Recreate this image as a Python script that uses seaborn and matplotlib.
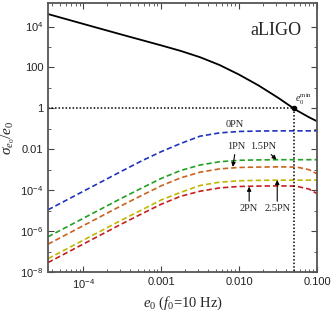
import numpy as np
import pandas as pd
import matplotlib
matplotlib.use("Agg")
import matplotlib.pyplot as plt
import seaborn as sns

# ---- data (log10 values) ----
log_e0 = [-4.45, -4.0, -3.5, -3.25, -3.0, -2.75, -2.5, -2.25, -2.0, -1.75, -1.5, -1.3, -1.25, -1.1, -1.0]
sigma_total = [4.61, 4.13, 3.60, 3.34, 3.08, 2.81, 2.50, 2.12, 1.65, 1.12, 0.52, 0.0, -0.12, -0.44, -0.63]
pn0 = [-4.96, -4.06, -3.06, -2.57, -2.12, -1.72, -1.36, -1.20, -1.13, -1.11, -1.10, -1.10, -1.10, -1.10, -1.10]
pn15 = [-6.28, -5.38, -4.38, -3.90, -3.43, -3.04, -2.77, -2.61, -2.54, -2.52, -2.51, -2.51, -2.51, -2.51, -2.51]
pn1 = [-6.64, -5.74, -4.74, -4.26, -3.79, -3.40, -3.12, -2.96, -2.89, -2.87, -2.86, -2.87, -2.88, -3.00, -3.20]
pn25 = [-7.35, -6.45, -5.45, -4.97, -4.48, -4.11, -3.77, -3.61, -3.54, -3.52, -3.51, -3.51, -3.51, -3.51, -3.51]
pn2 = [-7.54, -6.64, -5.64, -5.16, -4.69, -4.30, -4.05, -3.89, -3.82, -3.80, -3.79, -3.80, -3.82, -3.95, -4.17]
e0_min = 0.05

xticks = [1e-4, 1e-3, 1e-2, 1e-1]
xticklabels = [r"$\mathsf{10^{-4}}$", "0.001", "0.010", "0.100"]
yticks = [1e4, 1e2, 1, 1e-2, 1e-4, 1e-6, 1e-8]
yticklabels = [r"$\mathsf{10^{4}}$", "100", "1", "0.01",
               r"$\mathsf{10^{-4}}$", r"$\mathsf{10^{-6}}$", r"$\mathsf{10^{-8}}$"]

sns.set_style("ticks")
plt.rcParams["font.family"] = ["Liberation Sans", "DejaVu Sans"]
plt.rcParams["mathtext.fontset"] = "custom"
plt.rcParams["mathtext.rm"] = "Liberation Serif"
plt.rcParams["mathtext.it"] = "Liberation Serif:italic"
plt.rcParams["mathtext.sf"] = "Liberation Sans"

fig = plt.figure(figsize=(3.32, 3.11), dpi=100)
ax = fig.add_axes([48 / 332, 1 - 272 / 311, 269 / 332, 269 / 311])

x = 10 ** np.array(log_e0)
series = [
    (sigma_total, "#000000", "solid"),
    (pn0, "#2233bb", "dash"),
    (pn15, "#22a022", "dash"),
    (pn1, "#c8641e", "dash"),
    (pn25, "#c0b800", "dash"),
    (pn2, "#c81e1e", "dash"),
]
for vals, col, sty in series:
    df = pd.DataFrame({"e0": x, "v": 10 ** np.array(vals)})
    if sty == "solid":
        sns.lineplot(data=df, x="e0", y="v", ax=ax, color=col, lw=1.3)
    else:
        sns.lineplot(data=df, x="e0", y="v", ax=ax, color=col, lw=1.2,
                     dashes=False, linestyle=(0, (3.2, 1.8)))

ax.set_xscale("log")
ax.set_yscale("log")
ax.set_xlim(10 ** -4.45, 0.1)
ax.set_ylim(1e-8, 10 ** 5.15)

# dotted guide lines at e0_min
ax.plot([10 ** -4.45, e0_min], [1, 1], color="black", lw=1.1, ls=(0, (1, 1.3)))
ax.plot([e0_min, e0_min], [1, 1e-8], color="black", lw=1.1, ls=(0, (1, 1.3)))
ax.plot([e0_min], [1], "o", color="black", ms=3)
ax.text(10 ** -1.17, 10 ** 0.45, r"$e_0^{\rm min}$", fontsize=7, ha="center", va="center")

ax.text(0.846, 0.896, "aLIGO", transform=ax.transAxes, fontsize=13,
        family="Liberation Serif", ha="center", va="center")

lab_kw = dict(fontsize=7.5, family="Liberation Serif", ha="center", va="center")
arr = dict(arrowstyle="-|>", color="black", lw=0.8, mutation_scale=6, shrinkA=0, shrinkB=0)
ax.text(10 ** -2.05, 10 ** -0.78, "0PN", **lab_kw)
ax.annotate("1PN", xy=(10 ** -2.08, 10 ** -2.86), xytext=(10 ** -2.04, 10 ** -1.88),
            arrowprops=arr, **lab_kw)
ax.annotate("1.5PN", xy=(10 ** -1.52, 10 ** -2.51), xytext=(10 ** -1.69, 10 ** -1.88),
            arrowprops=arr, **lab_kw)
ax.annotate("2PN", xy=(10 ** -1.87, 10 ** -3.83), xytext=(10 ** -1.87, 10 ** -4.92),
            arrowprops=arr, **lab_kw)
ax.annotate("2.5PN", xy=(10 ** -1.51, 10 ** -3.50), xytext=(10 ** -1.51, 10 ** -4.92),
            arrowprops=arr, **lab_kw)

ax.set_xticks(xticks)
ax.set_xticklabels(xticklabels)
ax.set_yticks(yticks)
ax.set_yticklabels(yticklabels)
ax.yaxis.set_minor_locator(matplotlib.ticker.FixedLocator([1e3, 1e1, 1e-1, 1e-3, 1e-5, 1e-7]))
ax.yaxis.set_minor_formatter(matplotlib.ticker.NullFormatter())
ax.tick_params(which="both", direction="in", top=True, right=True, colors="#444444",
               labelcolor="#222222", labelsize=8)
ax.tick_params(which="major", length=4, width=0.8)
ax.tick_params(which="minor", length=2, width=0.6)
for s in ax.spines.values():
    s.set_color("#555555")
    s.set_linewidth(1.3)

ax.set_xlabel(r"$e_0$ ($f_0$=10 Hz)", family="Liberation Serif", fontsize=10.5, labelpad=3)
ax.set_ylabel(r"$\sigma_{e_0}/e_0$", family="Liberation Serif", fontsize=11, labelpad=2)

fig.savefig("out.png", dpi=100)
